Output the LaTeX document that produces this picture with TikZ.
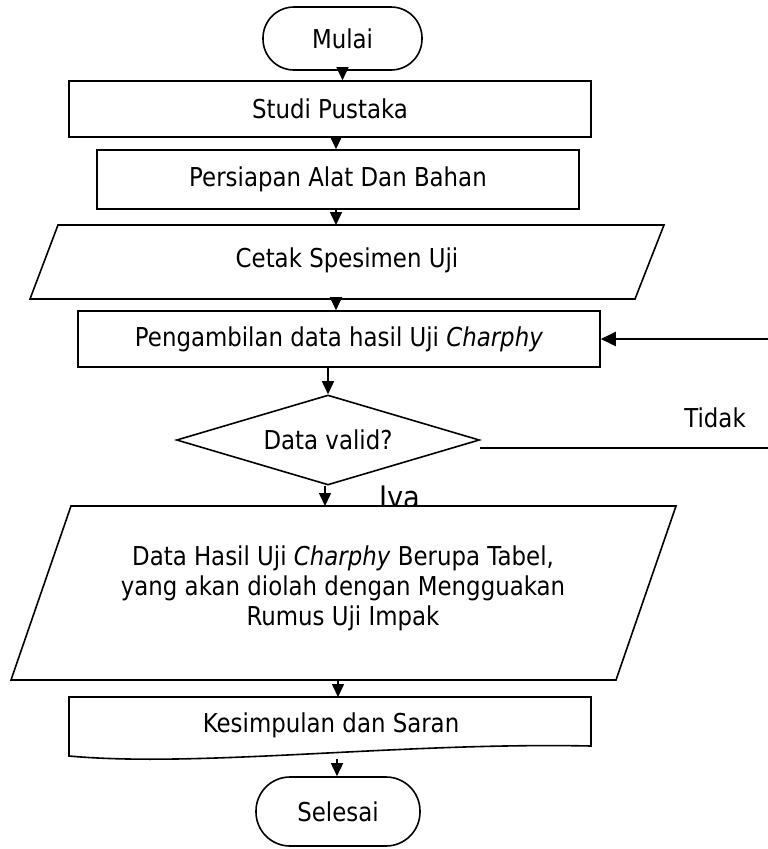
\documentclass[tikz,border=0pt]{standalone}
\usepackage{fontspec}
\setmainfont{DejaVu Sans}[FakeStretch=0.88]
\usetikzlibrary{arrows.meta,shapes.geometric}
\begin{document}
\begin{tikzpicture}[x=1pt,y=-1pt,
  lbl/.style={font=\fontsize{26}{30}\selectfont, align=center, inner sep=0pt},
  shapeline/.style={draw, line width=1.6pt, fill=white},
  boxnode/.style={shapeline, rectangle, lbl},
  term/.style={boxnode},
  arr/.style={line width=1.6pt, -{Triangle[length=13pt,width=12pt]}},
  bigarr/.style={line width=2.2pt, -{Triangle[length=15pt,width=14pt]}},
  plainline/.style={line width=2.2pt}
]
\useasboundingbox (0,0) rectangle (768,849);
\coordinate (colx) at (336,0);

% terminal Mulai
\node[term, minimum width=159pt, minimum height=63pt, rounded corners=31pt] (mulai) at (342.5,38.5) {Mulai};

% Studi Pustaka
\node[boxnode, minimum width=522pt, minimum height=56pt] (studi) at (330,109) {Studi Pustaka};

% Persiapan
\node[boxnode, minimum width=482pt, minimum height=59pt] (pers) at (338,179.5) {Persiapan Alat Dan Bahan};

% Cetak (parallelogram)
\draw[shapeline] (58,225) -- (664,225) -- (635,299) -- (30,299) -- cycle;
\node[lbl] (cetak) at (347,260) {Cetak Spesimen Uji};
\coordinate (cetakTop) at (336,225);
\coordinate (cetakBot) at (336,299);

% Pengambilan
\node[boxnode, minimum width=522pt, minimum height=56pt] (peng) at (339,339) {Pengambilan data hasil Uji \textit{Charphy}};

% Decision
\node[draw, diamond, line width=1.6pt, fill=white, aspect=3.37, minimum width=303pt, minimum height=90pt, inner sep=0pt, lbl] (dia) at (328,440) {Data valid?};

% Iya label (partly hidden by the data shape)
\node[font=\fontsize{31}{31}\selectfont, anchor=base, inner sep=0pt] (iya) at (400,508) {Iya};

% Data (parallelogram)
\draw[shapeline] (71,506) -- (676,506) -- (616,680) -- (11,680) -- cycle;
\node[lbl] (data) at (343,588) {Data Hasil Uji \textit{Charphy} Berupa Tabel,\\yang akan diolah dengan Mengguakan\\Rumus Uji Impak};
\coordinate (dataTop) at (325,506);
\coordinate (dataBot) at (338,680);

% Kesimpulan (document shape)
\draw[shapeline] (69,697) -- (591,697) -- (591,746) .. controls (400,742) and (200,768) .. (69,756) -- cycle;
\node[lbl] (kes) at (331,725) {Kesimpulan dan Saran};
\coordinate (kesTop) at (338,697);
\coordinate (kesBot) at (337,759);

% terminal Selesai
\node[term, minimum width=164pt, minimum height=69pt, rounded corners=34pt] (sel) at (338,811.5) {Selesai};

% connectors
\draw[arr] (mulai.south) -- (studi.north -| mulai.south);
\draw[arr] (studi.south -| colx) -- (pers.north -| colx);
\draw[arr] (pers.south -| colx) -- (cetakTop);
\draw[arr] (cetakBot) -- (peng.north -| colx);
\draw[arr] (peng.south -| dia.north) -- (dia.north);
\draw[arr] (dia.south -| dataTop) -- (dataTop);
\draw[arr] (dataBot) -- (kesTop);
\draw[arr] (kesBot) -- (sel.north -| kesBot);

% loop back (Tidak)
\coordinate (loopR) at (768,339);
\coordinate (tidR) at (768,448);
\draw[bigarr] (loopR) -- (peng.east);
\draw[plainline] ([yshift=-8pt]dia.east) -- (tidR);
\node[lbl] (tidak) at (715,418) {Tidak};
\end{tikzpicture}
\end{document}
